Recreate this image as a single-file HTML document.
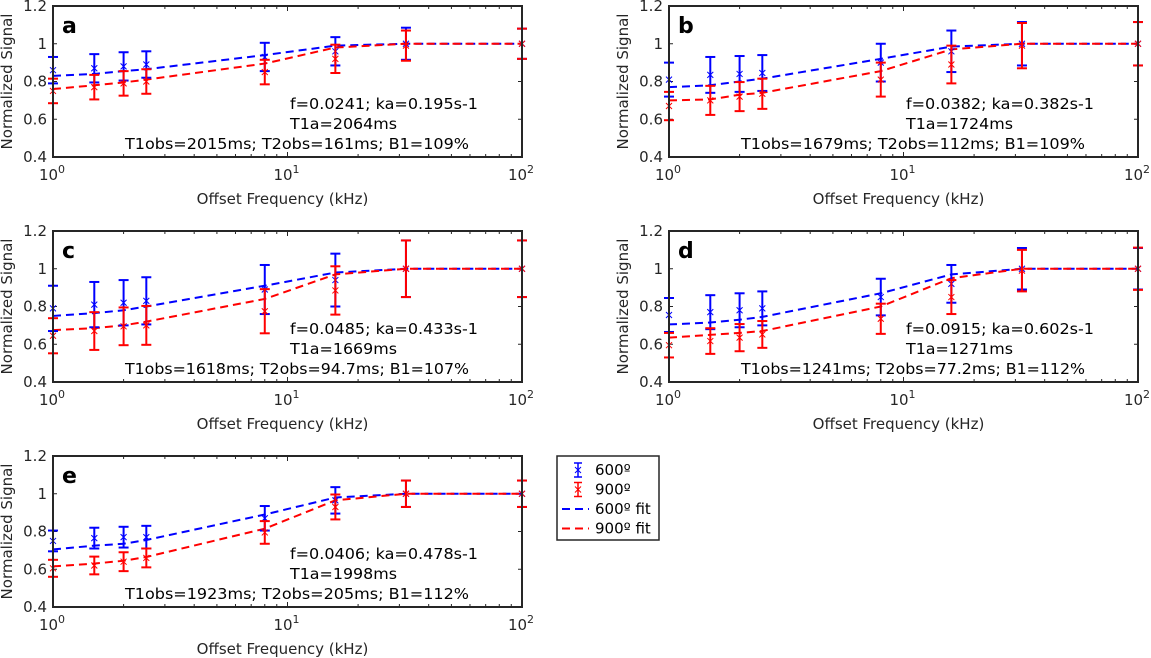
<!DOCTYPE html>
<html><head><meta charset="utf-8"><style>
html,body{margin:0;padding:0;background:#fff;}
svg{display:block;font-family:"DejaVu Sans","Liberation Sans",sans-serif;}
</style></head><body>
<svg id="fig" width="1151" height="658" viewBox="0 0 1151 658"></svg>
<script>
const freqs = [1, 1.5, 2, 2.5, 8, 16, 32, 100];
const panelLabels = ['a','b','c','d','e'];
const blueA = [0.86,0.87,0.88,0.89,0.93,0.96,1.0,1.0];
const blueErrA = [0.07,0.075,0.075,0.07,0.075,0.075,0.085,0.08];
const redA = [0.75,0.77,0.79,0.80,0.85,0.92,0.99,1.0];
const redErrA = [0.065,0.065,0.065,0.065,0.065,0.075,0.08,0.08];
const blueFitA = [0.83,0.84,0.855,0.865,0.94,0.99,1,1];
const redFitA = [0.76,0.78,0.795,0.81,0.895,0.98,1,1];
const blueB = [0.81,0.835,0.84,0.845,0.90,0.96,1.0,1.0];
const blueErrB = [0.09,0.095,0.095,0.095,0.1,0.11,0.115,0.115];
const redB = [0.67,0.70,0.72,0.735,0.81,0.89,0.99,1.0];
const redErrB = [0.075,0.077,0.077,0.08,0.09,0.1,0.12,0.115];
const blueFitB = [0.77,0.78,0.80,0.815,0.92,0.985,1,1];
const redFitB = [0.70,0.705,0.73,0.74,0.855,0.97,1,1];
const blueC = [0.79,0.81,0.82,0.83,0.89,0.94,1.0,1.0];
const blueErrC = [0.12,0.12,0.12,0.125,0.13,0.14,0.15,0.15];
const redC = [0.645,0.67,0.695,0.70,0.775,0.885,1.0,1.0];
const redErrC = [0.093,0.1,0.1,0.103,0.117,0.128,0.15,0.15];
const blueFitC = [0.75,0.765,0.78,0.80,0.91,0.98,1,1];
const redFitC = [0.675,0.685,0.70,0.72,0.84,0.97,1,1];
const blueD = [0.755,0.77,0.78,0.79,0.85,0.92,1.0,1.0];
const blueErrD = [0.09,0.09,0.09,0.09,0.097,0.1,0.11,0.11];
const redD = [0.595,0.617,0.635,0.652,0.735,0.85,0.99,1.0];
const redErrD = [0.065,0.068,0.072,0.071,0.08,0.09,0.11,0.112];
const blueFitD = [0.705,0.715,0.73,0.745,0.87,0.97,1,1];
const redFitD = [0.635,0.65,0.66,0.67,0.80,0.95,1,1];
const blueE = [0.75,0.765,0.77,0.77,0.87,0.965,1.0,1.0];
const blueErrE = [0.055,0.055,0.055,0.06,0.065,0.07,0.07,0.07];
const redE = [0.605,0.62,0.64,0.66,0.795,0.93,1.0,1.0];
const redErrE = [0.045,0.047,0.05,0.05,0.06,0.066,0.07,0.07];
const blueFitE = [0.705,0.725,0.735,0.755,0.89,0.98,1,1];
const redFitE = [0.615,0.63,0.645,0.665,0.815,0.965,1,1];
const annot1 = ['f=0.0241; ka=0.195s-1','f=0.0382; ka=0.382s-1','f=0.0485; ka=0.433s-1','f=0.0915; ka=0.602s-1','f=0.0406; ka=0.478s-1'];
const annot2 = ['T1a=2064ms','T1a=1724ms','T1a=1669ms','T1a=1271ms','T1a=1998ms'];
const annot3 = ['T1obs=2015ms; T2obs=161ms; B1=109%','T1obs=1679ms; T2obs=112ms; B1=109%','T1obs=1618ms; T2obs=94.7ms; B1=107%','T1obs=1241ms; T2obs=77.2ms; B1=112%','T1obs=1923ms; T2obs=205ms; B1=112%'];
const yTicks = [0.4,0.6,0.8,1,1.2];
const yTickLabels = ['0.4','0.6','0.8','1','1.2'];
const xDecades = [0,1,2];

const panels = [
 {b:blueA,be:blueErrA,r:redA,re:redErrA,bf:blueFitA,rf:redFitA,x:53,y:6},
 {b:blueB,be:blueErrB,r:redB,re:redErrB,bf:blueFitB,rf:redFitB,x:669,y:6},
 {b:blueC,be:blueErrC,r:redC,re:redErrC,bf:blueFitC,rf:redFitC,x:53,y:231},
 {b:blueD,be:blueErrD,r:redD,re:redErrD,bf:blueFitD,rf:redFitD,x:669,y:231},
 {b:blueE,be:blueErrE,r:redE,re:redErrE,bf:blueFitE,rf:redFitE,x:53,y:456}
];
const W=469,H=151;
const NS='http://www.w3.org/2000/svg';
const svg=document.getElementById('fig');
function mk(tag,attrs,parent,text){const e=document.createElementNS(NS,tag);for(const k in attrs)e.setAttribute(k,attrs[k]);if(text!==undefined)e.textContent=text;(parent||svg).appendChild(e);return e;}
function fitText(t,w){try{const bw=t.getComputedTextLength();if(bw>0&&Math.abs(bw-w)>2){t.setAttribute('textLength',w);t.setAttribute('lengthAdjust','spacingAndGlyphs');}}catch(e){}}

panels.forEach((p,i)=>{
  const g=mk('g',{});
  
  
  const sx=f=>p.x+Math.log10(f)/2*W;
  const sy=v=>p.y+H-(v-0.4)/0.8*H;
  yTicks.forEach((t,k)=>{
    const yy=sy(t);
    mk('line',{x1:p.x,x2:p.x+4,y1:yy,y2:yy,stroke:'#262626','stroke-width':1},g);
    mk('line',{x1:p.x+W,x2:p.x+W-4,y1:yy,y2:yy,stroke:'#262626','stroke-width':1},g);
    const tl=mk('text',{x:p.x-6,y:yy+5,'text-anchor':'end','font-size':15,fill:'#262626'},g,yTickLabels[k]);
    
    
  });
  for(let d=0;d<2;d++){for(let m=1;m<10;m++){const xx=sx(m*Math.pow(10,d));const len=m===1?5:3;
    mk('line',{x1:xx,x2:xx,y1:p.y+H,y2:p.y+H-len,stroke:'#262626','stroke-width':1},g);
    mk('line',{x1:xx,x2:xx,y1:p.y,y2:p.y+len,stroke:'#262626','stroke-width':1},g);}}
  xDecades.forEach(d=>{
    const xx=sx(Math.pow(10,d));
    const t=mk('text',{x:xx-1,y:p.y+H+23,'text-anchor':'middle','font-size':15,fill:'#262626'},g);
    
    
    mk('tspan',{},t,'10');
    mk('tspan',{dy:-7,'font-size':11},t,String(d));
  });
  const xl=mk('text',{x:p.x+W/2-5,y:p.y+H+47,'text-anchor':'middle','font-size':15,fill:'#262626'},g,'Offset Frequency (kHz)');
  
  
  const cy=p.y+H/2;
  const yl=mk('text',{x:p.x-41,y:cy,'text-anchor':'middle','font-size':15,fill:'#262626',transform:`rotate(-90 ${p.x-41} ${cy})`},g,'Normalized Signal');
  
  
  const series=[[p.b,p.be,p.bf,'#0000ff','600'],[p.r,p.re,p.rf,'#ff0000','900']];
  series.forEach(s=>{
    const pts=freqs.map((f,k)=>sx(f)+','+sy(s[2][k])).join(' ');
    const fl=mk('polyline',{points:pts,fill:'none',stroke:s[3],'stroke-width':2,'stroke-dasharray':'8,5'},g);
    
    
  });
  series.forEach(s=>{
    freqs.forEach((f,k)=>{
      const xx=sx(f),y1=sy(s[0][k]+s[1][k]),y2=sy(s[0][k]-s[1][k]),ym=sy(s[0][k]);
      const eg=mk('g',{stroke:s[3],fill:'none'},g);
      
      
      mk('line',{x1:xx,x2:xx,y1:y1,y2:y2,'stroke-width':2},eg);
      mk('line',{x1:xx-5,x2:xx+5,y1:y1,y2:y1,'stroke-width':2},eg);
      mk('line',{x1:xx-5,x2:xx+5,y1:y2,y2:y2,'stroke-width':2},eg);
      mk('path',{d:`M${xx-3},${ym-3}L${xx+3},${ym+3}M${xx-3},${ym+3}L${xx+3},${ym-3}`,'stroke-width':1},eg);
    });
  });
  const fr=mk('rect',{x:p.x,y:p.y,width:W,height:H,fill:'none',stroke:'#262626','stroke-width':2},g);
  
  
  const pl=mk('text',{x:p.x+9,y:p.y+27,'font-size':22,'font-weight':'bold',fill:'#000'},g,panelLabels[i]);
  
  
  const a1=mk('text',{x:p.x+237,y:p.y+103,'font-size':15,fill:'#000'},g,annot1[i]);
  
  
  fitText(a1,188);
  const a2=mk('text',{x:p.x+237,y:p.y+123,'font-size':15,fill:'#000'},g,annot2[i]);
  
  
  fitText(a2,107);
  const a3=mk('text',{x:p.x+72,y:p.y+143,'font-size':15,fill:'#000'},g,annot3[i]);
  
  
  fitText(a3,344);
});

const lg=mk('g',{});


mk('rect',{x:557,y:456,width:102,height:84,fill:'#fff',stroke:'#262626','stroke-width':1.5},lg);
const legNames=['600º','900º','600º fit','900º fit'];
const legColors=['#0000ff','#ff0000','#0000ff','#ff0000'];
legNames.forEach((n,k)=>{
  const yy=470+k*19.5;
  const e=mk('g',{},lg);
  
  
  if(k<2){
    mk('line',{x1:578,x2:578,y1:yy-7,y2:yy+7,stroke:legColors[k],'stroke-width':1.5},e);
    mk('line',{x1:574,x2:582,y1:yy-7,y2:yy-7,stroke:legColors[k],'stroke-width':1.5},e);
    mk('line',{x1:574,x2:582,y1:yy+7,y2:yy+7,stroke:legColors[k],'stroke-width':1.5},e);
    mk('path',{d:`M575,${yy-3}L581,${yy+3}M575,${yy+3}L581,${yy-3}`,stroke:legColors[k],'stroke-width':1},e);
  } else {
    mk('line',{x1:562,x2:589,y1:yy,y2:yy,stroke:legColors[k],'stroke-width':2,'stroke-dasharray':'8,5'},e);
  }
  mk('text',{x:595,y:yy+5,'font-size':15,fill:'#000'},e,n);
});
</script>
</body></html>
